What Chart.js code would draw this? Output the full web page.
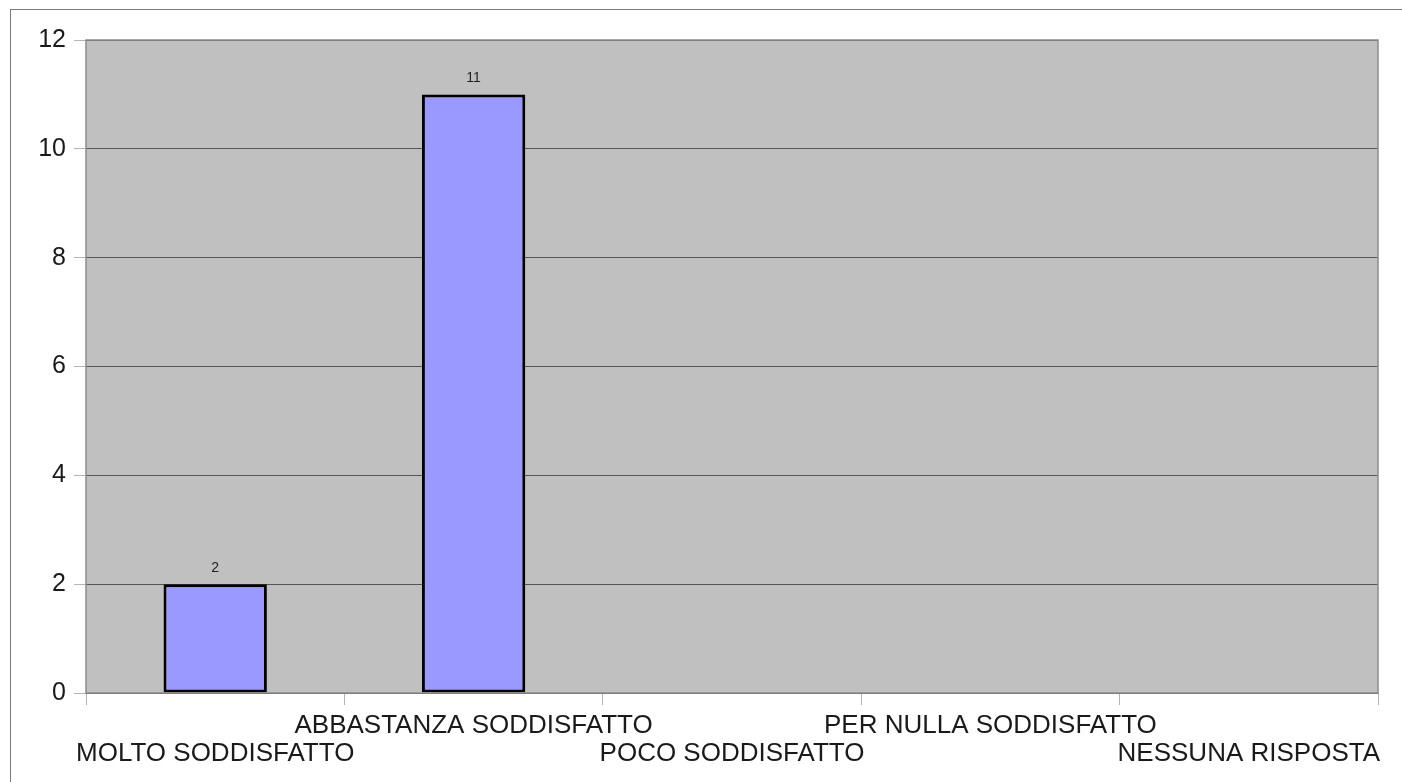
<!DOCTYPE html>
<html>
<head>
<meta charset="utf-8">
<script src="https://cdn.jsdelivr.net/npm/chart.js@4"></script>
<style>
    html, body { margin: 0; padding: 0; background: #fff; overflow: hidden; }
    #wrap { position: relative; width: 1402px; height: 782px; }
    #frame { position: absolute; left: 10px; top: 9px; width: 1400px; height: 800px; border: 1px solid #7a7a7a; box-sizing: border-box; pointer-events: none; }
    canvas { position: absolute; left: 0; top: 0; }
</style>
</head>
<body>
<div id="wrap">
    <div id="frame"></div>
    <canvas id="chart" width="1402" height="782"></canvas>
</div>
<script>
// satisfaction survey bar chart

const categories = ['MOLTO SODDISFATTO', 'ABBASTANZA SODDISFATTO', 'POCO SODDISFATTO', 'PER NULLA SODDISFATTO', 'NESSUNA RISPOSTA'];
const counts = [2, 11, null, null, null];
const yTicks = [0, 2, 4, 6, 8, 10, 12];

// grey plot background with border
const plotBackground = {
    id: 'plotBackground',
    beforeDraw(chart) {
        const { ctx, chartArea: a } = chart;
        ctx.save();
        ctx.fillStyle = '#c0c0c0';
        ctx.fillRect(a.left, a.top, a.right - a.left, a.bottom - a.top);
        ctx.restore();
    },
    afterDatasetsDraw(chart) {
        const { ctx, chartArea: a } = chart;
        ctx.save();
        ctx.strokeStyle = '#8c8c8c';
        ctx.lineWidth = 1.5;
        ctx.strokeRect(a.left, a.top, a.right - a.left, a.bottom - a.top);
        ctx.restore();
    }
};

// value labels above the bars
const valueLabels = {
    id: 'valueLabels',
    afterDatasetsDraw(chart) {
        const { ctx } = chart;
        const meta = chart.getDatasetMeta(0);
        ctx.save();
        ctx.font = '14px "Liberation Sans", Arial, sans-serif';
        ctx.fillStyle = '#222';
        ctx.textAlign = 'center';
        ctx.textBaseline = 'bottom';
        meta.data.forEach((bar, i) => {
            if (counts[i] === null) return;
            ctx.fillText(String(counts[i]), bar.x, bar.y - 9);
        });
        ctx.restore();
    }
};

new Chart(document.getElementById('chart'), {
    type: 'bar',
    data: {
        labels: categories,
        datasets: [{
            data: counts,
            backgroundColor: '#9999ff',
            borderColor: '#000',
            borderWidth: 3,
            borderSkipped: false,
            barPercentage: 0.4,
            categoryPercentage: 1
        }]
    },
    options: {
        responsive: false,
        animation: false,
        layout: { padding: { top: 40, right: 24, left: 0, bottom: 0 } },
        plugins: {
            legend: { display: false },
            tooltip: { enabled: false }
        },
        scales: {
            x: {
                offset: true,
                grid: { drawOnChartArea: false, drawTicks: true, tickLength: 12, tickColor: '#b3b3b3', offset: true },
                border: { display: false },
                ticks: {
                    autoSkip: false,
                    maxRotation: 0,
                    minRotation: 0,
                    padding: 7,
                    color: '#1a1a1a',
                    font: { family: '"Liberation Sans", Arial, sans-serif', size: 26, lineHeight: '28px' },
                    callback: (v, i) => i % 2 === 0 ? ['', categories[i]] : [categories[i]]
                },
                afterFit: s => { s.height = 89; }
            },
            y: {
                min: 0,
                max: 12,
                afterBuildTicks: s => { s.ticks = yTicks.map(v => ({ value: v })); },
                grid: { color: '#555', tickColor: '#b3b3b3', tickLength: 12, lineWidth: 1 },
                border: { display: false },
                ticks: {
                    padding: 8,
                    color: '#1a1a1a',
                    font: { family: '"Liberation Sans", Arial, sans-serif', size: 25 }
                },
                afterFit: s => { s.width = 86; }
            }
        }
    },
    plugins: [plotBackground, valueLabels]
});
</script>
</body>
</html>
